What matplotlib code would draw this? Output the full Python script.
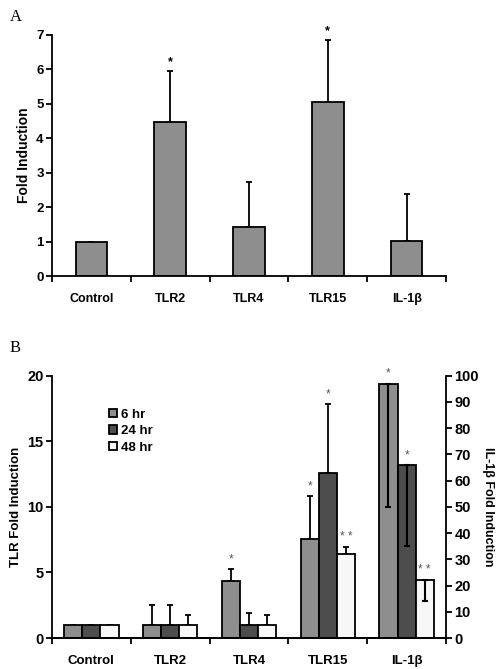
import numpy as np
import matplotlib.pyplot as plt

plt.rcParams['font.family'] = ['Liberation Sans', 'DejaVu Sans']

# panel A
cats_a = ["Control", "TLR2", "TLR4", "TLR15", "IL-1β"]
fold_a = [1.0, 4.48, 1.43, 5.05, 1.02]
err_a = [0.0, 1.48, 1.31, 1.80, 1.36]
star_a = ["", "*", "", "*", ""]

# panel B (TLR on left axis, IL-1b on right axis)
cats_b = ["Control", "TLR2", "TLR4", "TLR15", "IL-1β"]
times = ["6 hr", "24 hr", "48 hr"]
tlr_6 = [1.0, 1.0, 4.35, 7.55]
tlr_24 = [1.0, 1.0, 1.0, 12.6]
tlr_48 = [1.0, 1.0, 1.0, 6.4]
tlr_err_6 = [0.0, 1.55, 0.9, 3.25]
tlr_err_24 = [0.0, 1.55, 0.9, 5.25]
tlr_err_48 = [0.0, 0.76, 0.76, 0.57]
tlr_star_6 = ["", "", "*", "*"]
tlr_star_24 = ["", "", "", "*"]
tlr_star_48 = ["", "", "", "**"]
il1b_vals = [97, 66, 22]
il1b_err = [47, 31, 8]
il1b_star = ["*", "*", "**"]

colors = ["#8e8e8e", "#4d4d4d", "#f7f7f7"]

fig = plt.figure(figsize=(5, 6.69), dpi=100)

# ---------- A ----------
axa = fig.add_axes([0.104, 0.5874, 0.788, 0.3603])
xa = np.arange(len(cats_a)) + 0.5
axa.bar(xa, fold_a, width=0.40, color="#8e8e8e", edgecolor="black", linewidth=1.3, zorder=2)
axa.errorbar(xa, fold_a, yerr=[np.zeros(len(err_a)), err_a], fmt="none",
             ecolor="black", elinewidth=1.3, capsize=2.5, capthick=1.3, zorder=1)
for x, v, e, s in zip(xa, fold_a, err_a, star_a):
    if s:
        axa.text(x, v + e + 0.08, s, ha="center", va="bottom", fontsize=9, fontweight="bold")
axa.set_xlim(0, 5)
axa.set_ylim(0, 7)
axa.set_yticks(range(8))
axa.set_xticks(xa)
axa.set_xticklabels(cats_a, fontsize=9, fontweight="bold")
axa.set_xticks(np.arange(6), minor=True)
axa.tick_params(axis="x", which="major", length=0, pad=12)
axa.tick_params(axis="x", which="minor", length=4, width=1.3, direction="out")
axa.tick_params(axis="y", length=4, width=1.3, labelsize=9.5, pad=2)
for lab in axa.get_yticklabels():
    lab.set_fontweight("bold")
axa.spines["top"].set_visible(False)
axa.spines["right"].set_visible(False)
axa.spines["left"].set_linewidth(1.3)
axa.spines["bottom"].set_linewidth(1.3)
axa.set_ylabel("Fold Induction", fontsize=10, fontweight="bold", labelpad=4)
fig.text(0.02, 0.975, "A", fontsize=12, family="Liberation Serif", va="center")

# ---------- B ----------
axb = fig.add_axes([0.104, 0.0463, 0.788, 0.3921])
axr = axb.twinx()
w = 0.23
xb = np.arange(4) + 0.5
tlr_series = [tlr_6, tlr_24, tlr_48]
tlr_errs = [tlr_err_6, tlr_err_24, tlr_err_48]
tlr_stars = [tlr_star_6, tlr_star_24, tlr_star_48]
for i in range(3):
    xs = xb + (i - 1) * w
    axb.bar(xs, tlr_series[i], width=w, color=colors[i], edgecolor="black",
            linewidth=1.3, zorder=2, label=times[i])
    axb.errorbar(xs, tlr_series[i], yerr=[np.zeros(4), tlr_errs[i]], fmt="none",
                 ecolor="black", elinewidth=1.3, capsize=2.5, capthick=1.3, zorder=1)
    for x, v, e, s in zip(xs, tlr_series[i], tlr_errs[i], tlr_stars[i]):
        if s:
            axb.text(x, v + e + 0.3, " ".join(s), ha="center", va="bottom",
                     fontsize=8.5, color="#555555")

xi = 4.5 + (np.arange(3) - 1) * w
axr.bar(xi, il1b_vals, width=w, color=colors, edgecolor="black", linewidth=1.3, zorder=2)
axr.errorbar(xi, il1b_vals, yerr=[il1b_err, np.zeros(3)], fmt="none",
             ecolor="black", elinewidth=1.5, capsize=2.5, capthick=1.5, zorder=3)
for x, v, s in zip(xi, il1b_vals, il1b_star):
    axr.text(x, v + 1.5, " ".join(s), ha="center", va="bottom", fontsize=8.5, color="#555555")

axb.set_xlim(0, 5)
axb.set_ylim(0, 20)
axr.set_ylim(0, 100)
axb.set_yticks([0, 5, 10, 15, 20])
axr.set_yticks(range(0, 101, 10))
axb.set_xticks(np.arange(5) + 0.5)
axb.set_xticklabels(cats_b, fontsize=9.5, fontweight="bold")
axb.set_xticks(np.arange(6), minor=True)
axb.tick_params(axis="x", which="major", length=0, pad=12)
axb.tick_params(axis="x", which="minor", length=4, width=1.3, direction="out")
axb.tick_params(axis="y", length=4, width=1.3, labelsize=10.5, pad=2)
axr.tick_params(axis="y", length=4, width=1.3, labelsize=10.5, pad=2)
for lab in axb.get_yticklabels() + axr.get_yticklabels():
    lab.set_fontweight("bold")
for ax in (axb, axr):
    ax.spines["top"].set_visible(False)
    for sp in ("left", "right", "bottom"):
        ax.spines[sp].set_linewidth(1.3)
axb.spines["right"].set_visible(False)
axr.spines["left"].set_visible(False)
axb.set_ylabel("TLR Fold Induction", fontsize=9.5, fontweight="bold", labelpad=4)
axr.set_ylabel("IL-1β Fold Induction", fontsize=9, fontweight="bold",
               rotation=-90, labelpad=11)
leg = axb.legend(loc="upper left", bbox_to_anchor=(0.115, 0.92), frameon=False,
                 handlelength=0.6, handleheight=0.6, handletextpad=0.3,
                 labelspacing=0.35, prop={"weight": "bold", "size": 9.5})
fig.text(0.02, 0.48, "B", fontsize=12, family="Liberation Serif", va="center")

fig.savefig("out.png", dpi=100)
